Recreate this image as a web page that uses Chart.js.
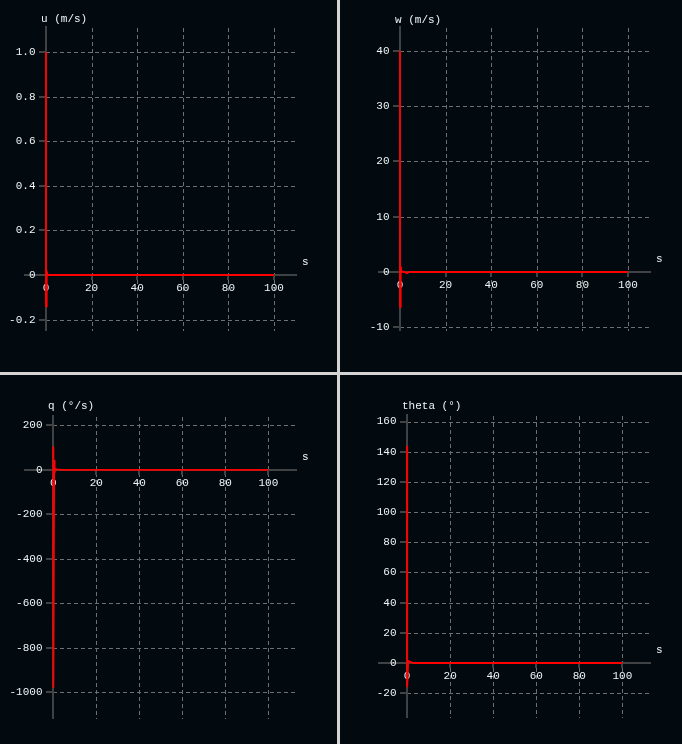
<!DOCTYPE html>
<html>
<head>
<meta charset="utf-8">
<script src="https://cdn.jsdelivr.net/npm/chart.js@4.4.1/dist/chart.umd.min.js"></script>
<style>
html, body { margin: 0; padding: 0; background: #d4d4d4; }
#wrap { position: relative; width: 682px; height: 744px; background: #d4d4d4; overflow: hidden; }
.p { position: absolute; background: #020a10; }
canvas { display: block; }
</style>
</head>
<body>
<div id="wrap">
  <div class="p" style="left:0;top:0;width:337px;height:372px"><canvas id="c1" width="337" height="372"></canvas></div>
  <div class="p" style="left:340px;top:0;width:342px;height:372px"><canvas id="c2" width="342" height="372"></canvas></div>
  <div class="p" style="left:0;top:375px;width:337px;height:369px"><canvas id="c3" width="337" height="369"></canvas></div>
  <div class="p" style="left:340px;top:375px;width:342px;height:369px"><canvas id="c4" width="342" height="369"></canvas></div>
</div>
<script>
// ---- data ----
const timeU = [0, 0.02, 0.3, 0.6, 1, 2, 100];
const valuesU = [1.0, -0.14, 0.015, 0.005, 0, 0, 0];

const timeW = [0, 0.02, 0.3, 0.6, 2, 3, 4, 100];
const valuesW = [40, -6.3, 1.0, 0.1, 0, -0.2, 0, 0];

const timeQ = [0, 0.05, 0.4, 0.6, 0.9, 1.5, 3, 4, 100];
const valuesQ = [105, -980, 44, -15, 5, 2, 1, 0, 0];

const timeTheta = [0, 0.05, 0.5, 1.5, 3, 100];
const valuesTheta = [144, -16, 1.5, 0.7, 0, 0];

const xTicks = [0, 20, 40, 60, 80, 100];
const xTickLabels = ['0', '20', '40', '60', '80', '100'];

const yTicksU = [-0.2, 0, 0.2, 0.4, 0.6, 0.8, 1.0];
const yTickLabelsU = ['-0.2', '0', '0.2', '0.4', '0.6', '0.8', '1.0'];
const yTicksW = [-10, 0, 10, 20, 30, 40];
const yTickLabelsW = ['-10', '0', '10', '20', '30', '40'];
const yTicksQ = [-1000, -800, -600, -400, -200, 0, 200];
const yTickLabelsQ = ['-1000', '-800', '-600', '-400', '-200', '0', '200'];
const yTicksTheta = [-20, 0, 20, 40, 60, 80, 100, 120, 140, 160];
const yTickLabelsTheta = ['-20', '0', '20', '40', '60', '80', '100', '120', '140', '160'];

const titles = ['u (m/s)', 'w (m/s)', 'q (°/s)', 'theta (°)'];
const xAxisName = 's';

// ---- styles ----
const TEXT = '#eef6f7';
const GRID = '#6c7072';
const AXIS = '#404243';
const LINE = '#ff0000';
const FONT = '11px "Liberation Mono", "DejaVu Sans Mono", monospace';

const crossAxes = {
  id: 'crossAxes',
  beforeDatasetsDraw(chart, args, o) {
    const { ctx, chartArea: a, scales: { x, y } } = chart;
    const x0 = Math.round(x.getPixelForValue(0));
    const y0 = Math.round(y.getPixelForValue(0));
    const line = (x1, y1, x2, y2) => { ctx.beginPath(); ctx.moveTo(x1, y1); ctx.lineTo(x2, y2); ctx.stroke(); };
    ctx.save();
    // dashed grid
    ctx.strokeStyle = GRID; ctx.lineWidth = 1; ctx.setLineDash([4, 3]);
    o.xTicks.forEach(v => {
      if (v === 0) return;
      const px = Math.round(x.getPixelForValue(v)) + 0.5;
      line(px, a.top + 2, px, a.bottom);
    });
    o.yTicks.forEach(v => {
      if (v === 0) return;
      const py = Math.round(y.getPixelForValue(v)) + 0.5;
      line(x0, py, a.right, py);
    });
    ctx.setLineDash([]);
    // axis lines
    ctx.strokeStyle = AXIS; ctx.lineWidth = 2;
    line(a.left, y0, a.right, y0);
    line(x0, a.top, x0, a.bottom);
    // tick marks
    o.yTicks.forEach(v => {
      const py = Math.round(y.getPixelForValue(v));
      line(x0 - 7, py, x0, py);
    });
    o.xTicks.forEach(v => {
      if (v === 0) return;
      const px = Math.round(x.getPixelForValue(v));
      line(px, y0, px, y0 + 5);
    });
    // labels
    ctx.fillStyle = TEXT; ctx.font = FONT;
    ctx.textAlign = 'right'; ctx.textBaseline = 'middle';
    o.yTicks.forEach((v, i) => ctx.fillText(o.yLabels[i], x0 - 10.5, y.getPixelForValue(v)));
    ctx.textAlign = 'center';
    o.xTicks.forEach((v, i) => ctx.fillText(o.xLabels[i], x.getPixelForValue(v), y0 + 13.5));
    ctx.textAlign = 'left';
    ctx.fillText(o.xName, a.right + 5, y0 - 13);
    ctx.fillText(o.title, x0 - 5, a.top + o.titleDy);
    ctx.restore();
  }
};

function makeChart(id, time, values, yTicks, yLabels, title, xr, yr, padding, titleDy) {
  const pts = time.map((t, i) => ({ x: t, y: values[i] }));
  return new Chart(document.getElementById(id), {
    type: 'scatter',
    data: {
      datasets: [{
        data: pts,
        showLine: true,
        borderColor: LINE,
        backgroundColor: LINE,
        borderWidth: 1.9,
        pointRadius: 0,
        tension: 0
      }]
    },
    options: {
      responsive: false,
      animation: false,
      events: [],
      layout: { padding },
      plugins: {
        legend: { display: false },
        tooltip: { enabled: false },
        crossAxes: { xTicks, xLabels: xTickLabels, yTicks, yLabels, title, xName: xAxisName, titleDy }
      },
      scales: {
        x: {
          type: 'linear', display: false, min: xr[0], max: xr[1],
          afterBuildTicks: s => { s.ticks = xTicks.map(v => ({ value: v })); }
        },
        y: {
          type: 'linear', display: false, min: yr[0], max: yr[1],
          afterBuildTicks: s => { s.ticks = yTicks.map(v => ({ value: v })); }
        }
      }
    },
    plugins: [crossAxes]
  });
}

makeChart('c1', timeU, valuesU, yTicksU, yTickLabelsU, titles[0],
  [-9.65, 110.1], [-0.251, 1.117], { left: 24, top: 26, right: 40, bottom: 41 }, -6.5);
makeChart('c2', timeW, valuesW, yTicksW, yTickLabelsW, titles[1],
  [-9.65, 110.1], [-10.67, 44.5], { left: 38, top: 26, right: 31, bottom: 41 }, -6);
makeChart('c3', timeQ, valuesQ, yTicksQ, yTickLabelsQ, titles[2],
  [-13.6, 113.3], [-1120, 246.6], { left: 24, top: 40, right: 40, bottom: 25 }, -8.5);
makeChart('c4', timeTheta, valuesTheta, yTicksTheta, yTickLabelsTheta, titles[3],
  [-13.5, 113.3], [-36.4, 165], { left: 38, top: 39, right: 31, bottom: 26 }, -7.5);
</script>
</body>
</html>
